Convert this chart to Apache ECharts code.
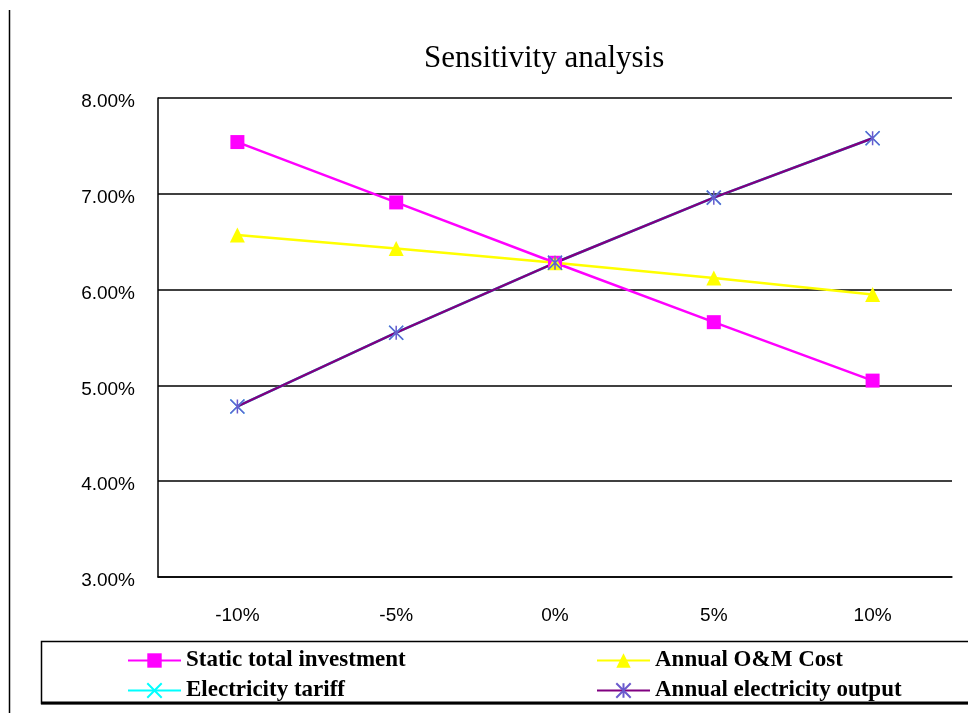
<!DOCTYPE html>
<html>
<head>
<meta charset="utf-8">
<script src="https://cdn.jsdelivr.net/npm/echarts@6/dist/echarts.min.js"></script>
<style>
  html, body { margin: 0; padding: 0; background: #fff; }
  #chart { width: 968px; height: 713px; }
</style>
</head>
<body>
<div id="chart"></div>
<script>
const categories = ['-10%', '-5%', '0%', '5%', '10%']
const investment = [7.54, 6.91, 6.28, 5.66, 5.05]
const omCost = [6.57, 6.43, 6.28, 6.12, 5.95]
const tariff = [4.78, 5.55, 6.28, 6.96, 7.58]
const output = [4.78, 5.55, 6.28, 6.96, 7.58]
const yTicks = { min: 3, max: 8, step: 1 }

const serif = 'Liberation Serif'
const sans = 'Liberation Sans'
const xPath = 'path://M0,0L10,10M10,0L0,10'
const starPath = 'path://M0,0L10,10M10,0L0,10M5,0L5,10'

const legendText = { fontFamily: serif, fontSize: 23, fontWeight: 'bold', color: '#000' }
const mkLegend = (name, left, top) => ({
    data: [name],
    left, top,
    itemWidth: 53,
    itemHeight: 18,
    selectedMode: false,
    textStyle: legendText
})

const chart = echarts.init(document.getElementById('chart'))
chart.setOption({
    animation: false,
    backgroundColor: '#fff',
    title: {
        text: 'Sensitivity analysis',
        left: 419,
        top: 38,
        textStyle: { fontFamily: serif, fontSize: 31, fontWeight: 'normal', color: '#000' }
    },
    grid: { left: 158, top: 98, right: 16, bottom: 136 },
    legend: [
        mkLegend('Static total investment', 122, 644),
        mkLegend('Annual O&M Cost', 591, 644),
        mkLegend('Electricity tariff', 122, 674),
        mkLegend('Annual electricity output', 591, 674)
    ],
    xAxis: {
        type: 'category',
        data: categories,
        boundaryGap: true,
        axisLine: { lineStyle: { color: '#000', width: 1.5 } },
        axisTick: { inside: true, length: 6, lineStyle: { color: '#000', width: 1.5 } },
        axisLabel: { margin: 29, color: '#000', fontFamily: sans, fontSize: 19 },
        splitLine: { show: false }
    },
    yAxis: {
        type: 'value',
        min: yTicks.min,
        max: yTicks.max,
        interval: yTicks.step,
        axisLine: { show: true, lineStyle: { color: '#000', width: 1.5 } },
        axisTick: { show: false },
        axisLabel: {
            margin: 23, color: '#000', fontFamily: sans, fontSize: 19,
            verticalAlign: 'top', lineHeight: 8,
            formatter: v => v.toFixed(2) + '%'
        },
        splitLine: { show: true, lineStyle: { color: '#000', width: 1.5 } }
    },
    series: [
        {
            name: 'Static total investment', type: 'line', data: investment,
            symbol: 'rect', symbolSize: 14,
            lineStyle: { color: '#ff00ff', width: 2.5 },
            itemStyle: { color: '#ff00ff' }
        },
        {
            name: 'Annual O&M Cost', type: 'line', data: omCost,
            symbol: 'triangle', symbolSize: 15,
            lineStyle: { color: '#ffff00', width: 2.5 },
            itemStyle: { color: '#ffff00' }
        },
        {
            name: 'Electricity tariff', type: 'line', data: tariff,
            symbol: xPath, symbolSize: 14,
            lineStyle: { color: '#00ffff', width: 2.5 },
            itemStyle: { color: 'none', borderColor: '#00ffff', borderWidth: 1.5 }
        },
        {
            name: 'Annual electricity output', type: 'line', data: output,
            symbol: starPath, symbolSize: 14,
            lineStyle: { color: '#800080', width: 2.5 },
            itemStyle: { color: 'none', borderColor: '#6a5acd', borderWidth: 1.5 }
        }
    ],
    graphic: [
        { type: 'line', shape: { x1: 9.5, y1: 10, x2: 9.5, y2: 713 }, style: { stroke: '#000', lineWidth: 1.5 } },
        { type: 'rect', shape: { x: 41.5, y: 641.5, width: 940, height: 62 }, style: { fill: 'none', stroke: '#000', lineWidth: 1.5 }, z: -1 },
        { type: 'line', shape: { x1: 41, y1: 703, x2: 968, y2: 703 }, style: { stroke: '#000', lineWidth: 3 } }
    ]
})
</script>
</body>
</html>
